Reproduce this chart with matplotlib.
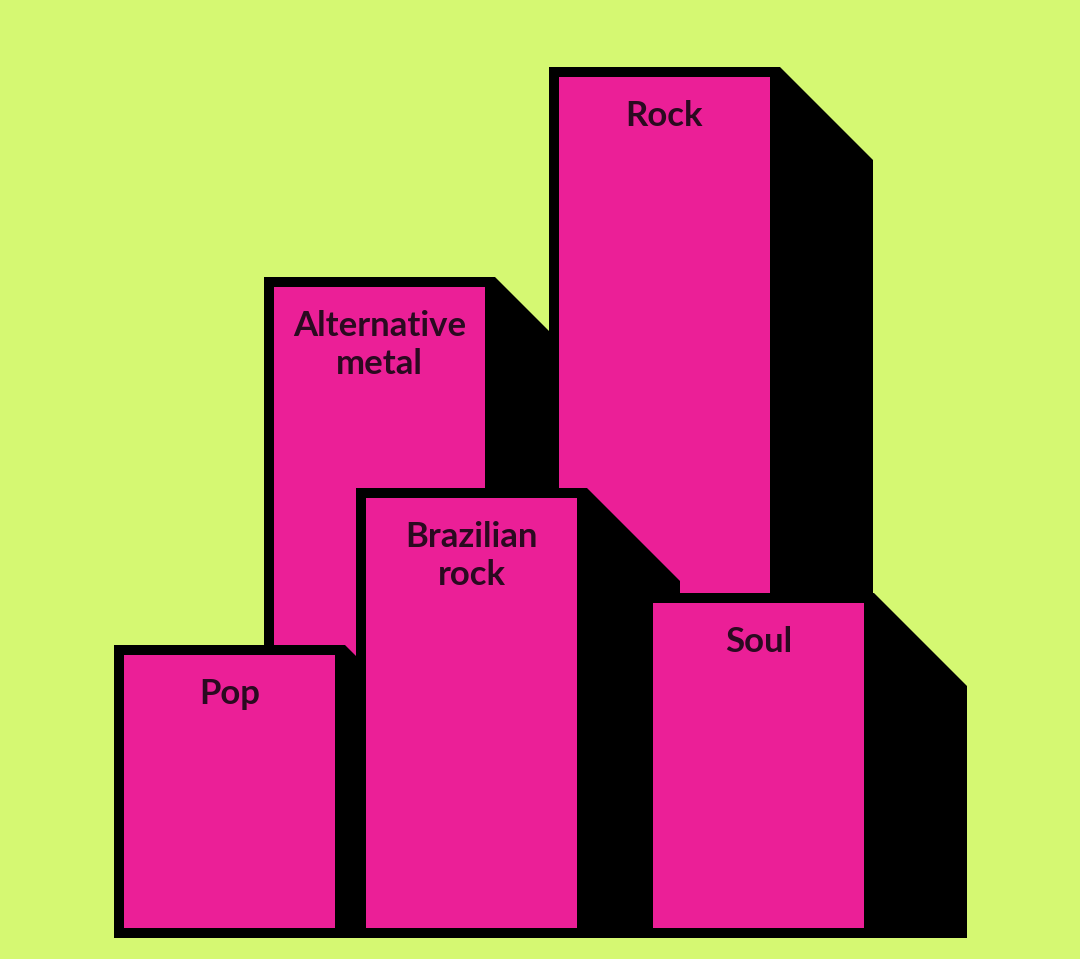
import matplotlib
matplotlib.use("Agg")
import matplotlib.pyplot as plt

# ---- data ----
categories = ["Pop", "Alternative\nmetal", "Brazilian\nrock", "Rock", "Soul"]
values = [293, 661, 450, 871, 345]          # bar heights (arbitrary units)

# ---- layout ----
x_left = [114, 264, 356, 549, 643]
row = ["front", "back", "front", "back", "front"]
bar_w = 231
border = 10
depth = 93

BG = "#d5f872"
PINK = "#eb1f97"
INK = "#2a0a20"

fig = plt.figure(figsize=(10.8, 9.59), dpi=100)
fig.patch.set_facecolor(BG)
ax = fig.add_axes([0, 0, 1, 1])
ax.set_facecolor(BG)
ax.set_xlim(0, 1080)
ax.set_ylim(-21, 938)
ax.axis("off")

draw_order = [i for i in range(len(categories)) if row[i] == "back"] + \
             [i for i in range(len(categories)) if row[i] == "front"]

z = 1
for i in draw_order:
    left = x_left[i]
    h = values[i]
    right = left + bar_w
    # side/extrusion
    ax.fill([right, right + depth, right + depth, right],
            [h, h - depth, 0, 0], color="black", zorder=z, lw=0)
    # outer frame
    ax.bar(left, h, width=bar_w, bottom=0, align="edge", color="black",
           zorder=z + 1, lw=0)
    # face
    ax.bar(left + border, h - 2 * border, width=bar_w - 2 * border,
           bottom=border, align="edge", color=PINK, zorder=z + 2, lw=0)
    # label
    cx = left + bar_w / 2
    y0 = h - border - 49
    for k, line in enumerate(categories[i].split("\n")):
        ax.text(cx, y0 - 38 * k, line, ha="center", va="baseline",
                fontsize=25, fontweight="bold", family=["Lato", "DejaVu Sans"],
                color=INK, zorder=z + 3)
    z += 4

fig.savefig("out.png", dpi=100, facecolor=BG)
